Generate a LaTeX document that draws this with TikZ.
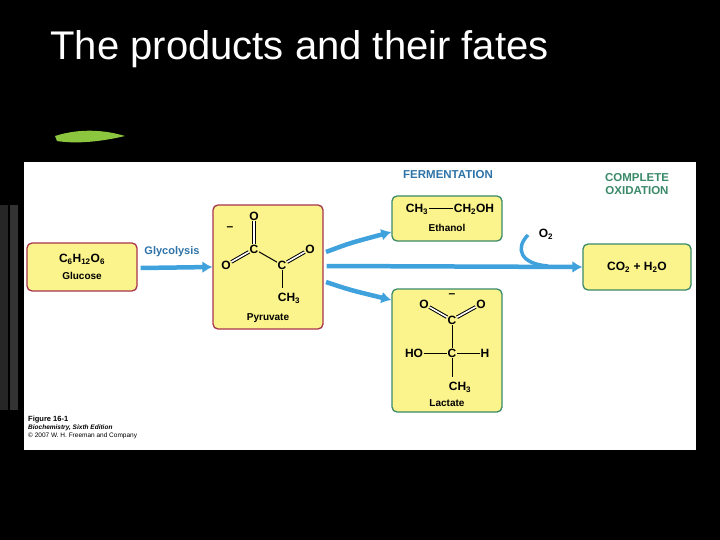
\documentclass[tikz,border=0pt]{standalone}
\usepackage{fontspec}
\setmainfont{Liberation Sans}
\usetikzlibrary{arrows.meta}
\newcommand{\sbs}[1]{\textsubscript{#1}}
\begin{document}
\begin{tikzpicture}[x=1pt,y=-1pt,
  ybox/.style={draw=#1,fill=boxy,rounded corners=5pt,line width=1.3pt},
  arr/.style={draw=arrb,line width=4.5pt,-{Latex[length=10pt,width=12pt]}},
  chem/.style={font=\bfseries\fontsize{12}{13}\selectfont,inner sep=0.5pt},
  bond/.style={line width=1pt},
  lbl/.style={font=\bfseries\fontsize{10}{11}\selectfont}]
\definecolor{boxy}{HTML}{FBF38C}
\definecolor{mar}{HTML}{A8344E}
\definecolor{grn}{HTML}{3A8A6A}
\definecolor{arrb}{HTML}{3FA2DC}
\definecolor{blu}{HTML}{2E73A8}
\definecolor{brush}{HTML}{8CC63F}
\fill[black] (0,0) rectangle (720,540);
\useasboundingbox (0,0) rectangle (720,540);
\fill[black!85!white] (0,205) rectangle (8,410);
\fill[black!80!white] (10,205) rectangle (18,410);
\node[anchor=west,text=white,font=\fontsize{40}{44}\selectfont] (title) at (47,49) {The products and their fates};
\fill[brush] (55,136) .. controls (80,128) and (105,130) .. (125,136) .. controls (100,142) and (75,144) .. (57,141) -- cycle;
\fill[white] (24,162) rectangle (696,450);
% boxes
\node[ybox=mar,minimum width=110pt,minimum height=48pt] (glu) at (82,267) {};
\node[chem] at (82,259) {C\sbs{6}H\sbs{12}O\sbs{6}};
\node[lbl] at (82,276) {Glucose};
\node[ybox=mar,minimum width=110pt,minimum height=124pt] (pyr) at (268,267) {};
\node[ybox=grn,minimum width=110pt,minimum height=45pt] (eth) at (447,218.5) {};
\node[chem] (ch3) at (417,209) {CH\sbs{3}};
\node[chem] (ch2) at (474,209) {CH\sbs{2}OH};
\draw[bond] (ch3) -- (ch2);
\node[lbl] at (447,228) {Ethanol};
\node[ybox=grn,minimum width=110pt,minimum height=123pt] (lac) at (447,350.5) {};
\node[ybox=grn,minimum width=108pt,minimum height=46pt] (co2) at (637,267) {};
\node[chem] at (637,267) {CO\sbs{2} + H\sbs{2}O};
% pyruvate structure
\node[chem] (po1) at (254,216) {O};
\node[chem] (pc1) at (254,249) {C};
\node[chem] (po2) at (226,265) {O};
\node[chem] (pc2) at (282,265) {C};
\node[chem] (po3) at (310,249) {O};
\node[chem] (pme) at (289,298) {CH\sbs{3}};
\node[chem] at (230,229) {--};
\draw[bond,double,double distance=1.6pt] (po1) -- (pc1);
\draw[bond,double,double distance=1.6pt] (po2) -- (pc1);
\draw[bond] (pc1) -- (pc2);
\draw[bond,double,double distance=1.6pt] (pc2) -- (po3);
\draw[bond] (pc2) -- (282,288);
\node[lbl] at (268,318) {Pyruvate};
% lactate structure
\node[chem] at (452,296) {--};
\node[chem] (lo1) at (424,304) {O};
\node[chem] (lo2) at (481,304) {O};
\node[chem] (lc1) at (452,320) {C};
\node[chem] (lc2) at (452,353) {C};
\node[chem] (lho) at (414,353) {HO};
\node[chem] (lh) at (485,353) {H};
\node[chem] (lme) at (460,387) {CH\sbs{3}};
\draw[bond,double,double distance=1.6pt] (lo1) -- (lc1);
\draw[bond,double,double distance=1.6pt] (lo2) -- (lc1);
\draw[bond] (lc1) -- (lc2);
\draw[bond] (lho) -- (lc2);
\draw[bond] (lc2) -- (lh);
\draw[bond] (lc2) -- (452,377);
\node[lbl] at (447,403) {Lactate};
% arrows
\draw[arr] (glu.east) ++(3,1) -- (pyr.west);
\draw[arr] (pyr.east) ++(3,-1) -- (co2.west);
\draw[arr] (326,252) .. controls (350,243) .. (eth.west|-0,232);
\draw[arr] (326,282) .. controls (350,290) .. (lac.west|-0,300);
\draw[draw=arrb,line width=3.5pt] (528,235) .. controls (515,248) and (520,264) .. (548,266);
% labels
\node[text=blu,font=\bfseries\fontsize{11}{12}\selectfont] at (172,252) {Glycolysis};
\node[text=blu,font=\bfseries\fontsize{11.5}{12}\selectfont] at (448,175) {FERMENTATION};
\node[text=grn,font=\bfseries\fontsize{11.5}{13}\selectfont,align=center] at (637,184) {COMPLETE\\OXIDATION};
\node[chem] at (546,234) {O\sbs{2}};
\node[anchor=north west,font=\fontsize{6.5}{8}\selectfont,align=left,inner sep=0] at (28,416) {\textbf{\fontsize{7.5}{9}\selectfont Figure 16-1}\\\textbf{\textit{Biochemistry, Sixth Edition}}\\© 2007 W. H. Freeman and Company};
\end{tikzpicture}
\end{document}
